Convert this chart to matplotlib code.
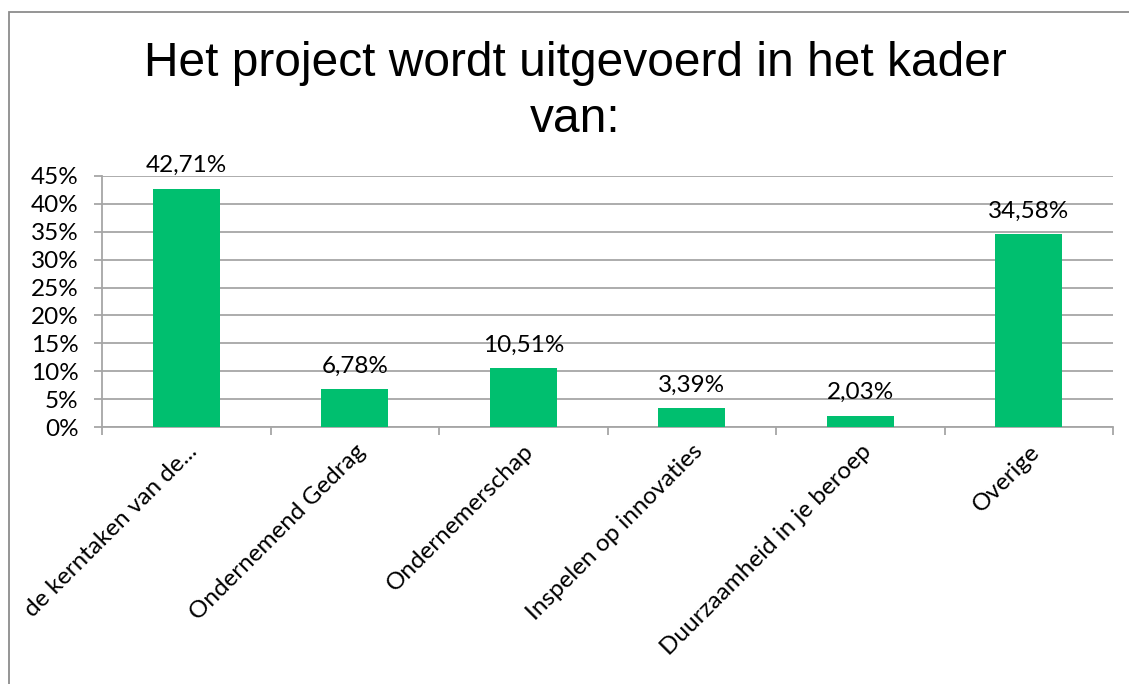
import matplotlib.pyplot as plt
import numpy as np
from matplotlib.patches import Rectangle
from matplotlib.ticker import FixedLocator

# data
categories = ['de kerntaken van de...', 'Ondernemend Gedrag', 'Ondernemerschap',
              'Inspelen op innovaties', 'Duurzaamheid in je beroep', 'Overige']
values = [42.71, 6.78, 10.51, 3.39, 2.03, 34.58]
y_ticks = [0, 5, 10, 15, 20, 25, 30, 35, 40, 45]

label_font = ['Lato', 'DejaVu Sans']
grid_col = '#A6A6A6'
bar_col = '#00BF6F'

fig = plt.figure(figsize=(11.29, 6.84), dpi=100)

# chart area border (only left and top visible in the crop)
fig.patches.append(Rectangle((9 / 1129, -0.1), 1.2, 1 - 12 / 684 + 0.1,
                             transform=fig.transFigure, fill=False,
                             edgecolor='#8C8C8C', linewidth=1.3))

ax = fig.add_axes([102 / 1129, 1 - 427 / 684, (1113 - 102) / 1129, (427 - 176) / 684])

x = np.arange(len(categories))
ax.bar(x, values, width=0.4, color=bar_col, zorder=3)

for xi, v in zip(x, values):
    ax.annotate(f'{v:.2f}%'.replace('.', ','), (xi, v), xytext=(0, 9),
                textcoords='offset points', ha='center', va='bottom',
                fontsize=17.5, family=label_font, color='#000000')

ax.set_xlim(-0.5, len(categories) - 0.5)
ax.set_ylim(0, 45)
ax.set_yticks(y_ticks)
ax.set_yticklabels([f'{t}%' for t in y_ticks], family=label_font, fontsize=17.5)
ax.yaxis.grid(True, color=grid_col, linewidth=1.3, zorder=0)

ax.set_xticks(x)
ax.set_xticklabels(categories, rotation=45, ha='right', rotation_mode='anchor',
                   family=label_font, fontsize=17.5)
ax.xaxis.set_minor_locator(FixedLocator(np.arange(-0.5, len(categories), 1.0)))
ax.tick_params(axis='x', which='major', length=0, pad=10)
ax.tick_params(axis='x', which='minor', length=6, color=grid_col, width=1.3)
ax.tick_params(axis='y', length=6, color=grid_col, width=1.3, pad=11)

for s in ['top', 'right']:
    ax.spines[s].set_visible(False)
for s in ['left', 'bottom']:
    ax.spines[s].set_color(grid_col)
    ax.spines[s].set_linewidth(1.3)

fig.text(575 / 1129, 1 - 41 / 684, 'Het project wordt uitgevoerd in het kader\nvan:',
         ha='center', va='top', fontsize=34.5, family='Liberation Sans',
         linespacing=1.3)

fig.savefig('out.png', dpi=100)
